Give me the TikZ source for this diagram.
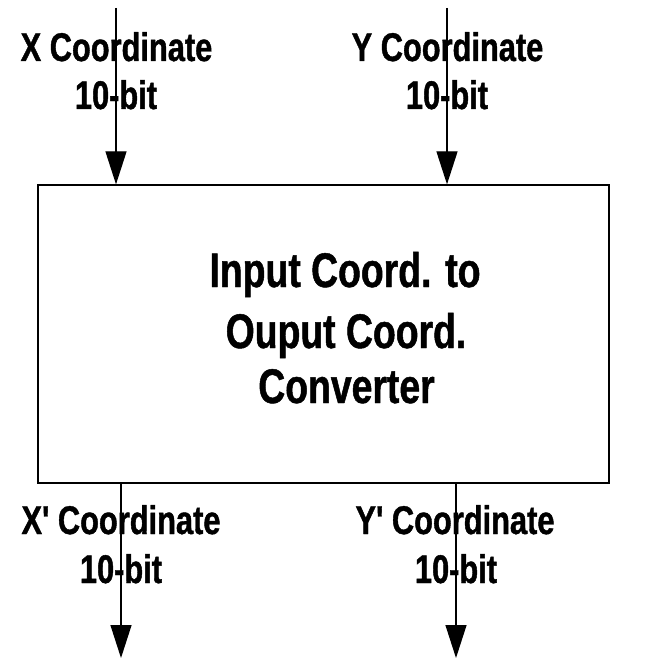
\documentclass[tikz,border=0pt]{standalone}
\usepackage{fontspec}
\setmainfont{Liberation Sans}[FakeStretch=0.77, BoldFeatures={FakeBold=1}]
% same face without the TeX quote mapping, for a straight prime
\newfontfamily\primefont{Liberation Sans}[FakeStretch=0.77, BoldFeatures={FakeBold=1}]
\usetikzlibrary{arrows.meta}
\newcommand{\prm}{{\primefont '}}
\tikzset{
  sig/.style={line width=1.3pt, -{Triangle[width=21pt,length=33pt]}},
  lbl/.style={anchor=base, inner sep=0pt, font=\fontsize{40}{48}\selectfont\bfseries},
  ttl/.style={anchor=base, inner sep=0pt, font=\fontsize{48.5}{58}\selectfont\bfseries},
}
\begin{document}
\begin{tikzpicture}[x=1pt, y=-1pt]
\useasboundingbox (0,0) rectangle (652,660);
% converter block
\node[draw, line width=1.3pt, minimum width=571pt, minimum height=298pt, inner sep=0pt]
  (conv) at (323.5,334) {};
\node[ttl] (t1) at (345,287) {Input Coord. to};
\node[ttl] (t2) at (346,348) {Ouput Coord.};
\node[ttl] (t3) at (346.5,403) {Converter};
% inputs
\coordinate (xin) at (116,8);
\coordinate (yin) at (447,8);
\draw[sig] (xin) -- (xin |- conv.north);
\draw[sig] (yin) -- (yin |- conv.north);
\node[lbl] (xl1) at (116.5,61) {X Coordinate};
\node[lbl] (xl2) at (116,109) {10-bit};
\node[lbl] (yl1) at (447.5,61) {Y Coordinate};
\node[lbl] (yl2) at (447,109) {10-bit};
% outputs
\coordinate (xout) at (121,658);
\coordinate (yout) at (456,658);
\draw[sig] (conv.south -| xout) -- (xout);
\draw[sig] (conv.south -| yout) -- (yout);
\node[lbl] (xo1) at (121,534) {X\prm{} Coordinate};
\node[lbl] (xo2) at (121,583) {10-bit};
\node[lbl] (yo1) at (455,534) {Y\prm{} Coordinate};
\node[lbl] (yo2) at (456,583) {10-bit};
\end{tikzpicture}
\end{document}
